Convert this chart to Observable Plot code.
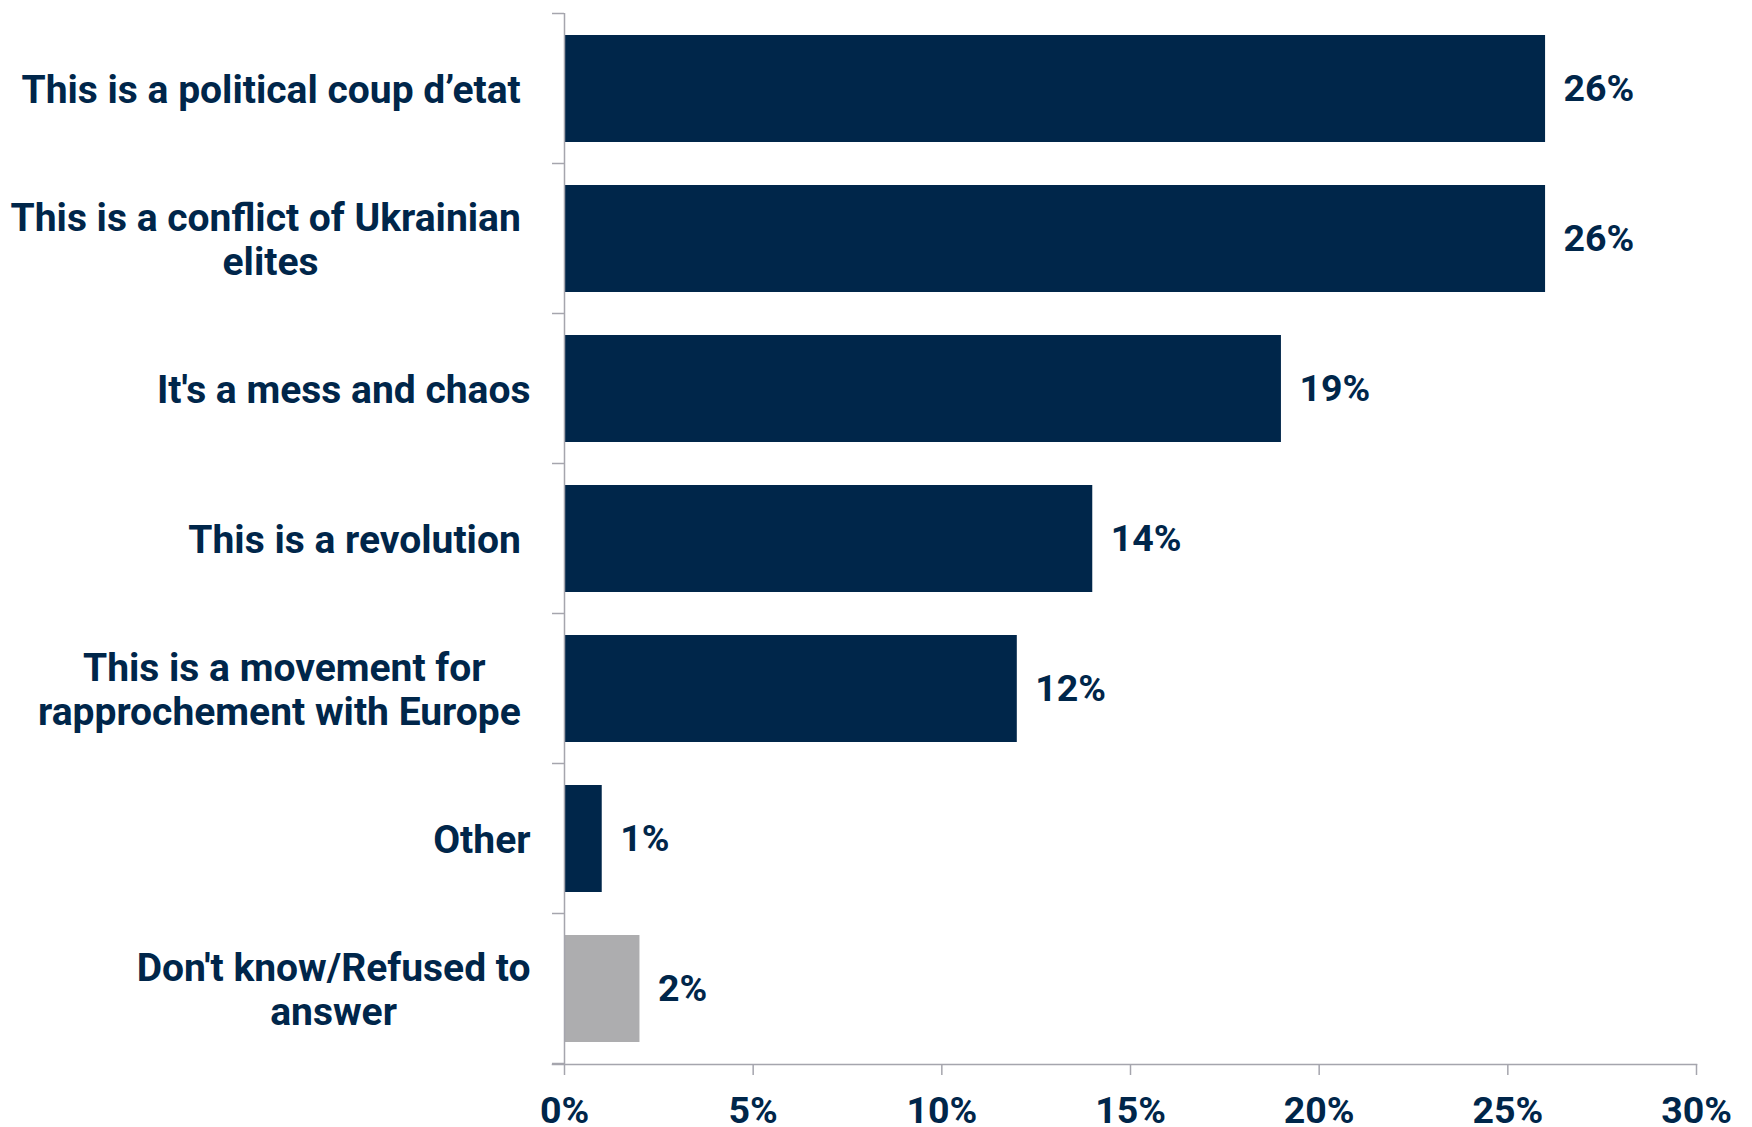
<!DOCTYPE html>
<html><head><meta charset="utf-8">
<script src="https://cdn.jsdelivr.net/npm/d3@7"></script>
<script src="https://cdn.jsdelivr.net/npm/@observablehq/plot@0.6"></script>
<style>
  body { margin: 0; background: #fff; }
  svg text { white-space: pre; }
</style>
</head><body>
<div id="chart"></div>
<script>
// ---- data ----
const categories = [
  "This is a political coup d\u2019etat ",
  "This is a conflict of Ukrainian \nelites",
  "It's a mess and chaos",
  "This is a revolution ",
  "This is a movement for\nrapprochement with Europe ",
  "Other",
  "Don't know/Refused to\nanswer"
];
const values = [26, 26, 19, 14, 12, 1, 2];
const xTicks = [0, 5, 10, 15, 20, 25, 30];
const grayCategory = "Don't know/Refused to\nanswer";

const data = categories.map((c, i) => ({category: c, value: values[i]}));

const NAVY = "#00264a";
const GRAY_BAR = "#adadaf";
const AXIS = "#a5a5ad";
const FONT = "Roboto";

const plot = Plot.plot({
  width: 1752,
  height: 1127,
  marginLeft: 564,
  marginRight: 56,
  marginTop: 13,
  marginBottom: 63,
  style: {fontFamily: FONT, fontSize: "37.5px", fontWeight: "bold", color: NAVY, background: "#fff"},
  x: {domain: [0, 30]},
  y: {domain: categories, paddingInner: 0.287, paddingOuter: 0.1435, axis: null},
  marks: [
    Plot.barX(data, {
      x: "value", y: "category",
      fill: d => d.category === grayCategory ? GRAY_BAR : NAVY
    }),
    Plot.ruleX([0], {stroke: AXIS, strokeWidth: 1.5}),
    Plot.frame({anchor: "bottom", stroke: AXIS, strokeWidth: 1.5, insetLeft: -12}),
    Plot.axisX({
      ticks: xTicks, tickFormat: d => d + "%",
      tickSize: 11, tickPadding: 21,
      stroke: AXIS, strokeWidth: 1.5, fill: NAVY,
      fontSize: 37.5, fontWeight: "bold", label: null
    }),
    Plot.text(data, {
      x: 0, y: "category", text: "category",
      textAnchor: "end", dx: -34, lineHeight: 1.12,
      fill: NAVY, fontSize: 39, fontWeight: "bold"
    }),
    Plot.text(data, {
      x: "value", y: "category", text: d => d.value + "%",
      textAnchor: "start", dx: 18,
      fill: NAVY, fontSize: 37.5, fontWeight: "bold"
    })
  ]
});
document.getElementById("chart").appendChild(plot);

// center multi-line category labels within their (right-aligned) block
d3.select(plot).selectAll("text").each(function() {
  const tspans = Array.from(this.querySelectorAll("tspan"));
  if (tspans.length > 1) {
    const widths = tspans.map(t => t.getComputedTextLength());
    const W = Math.max(...widths);
    tspans.forEach((t, i) => t.setAttribute("x", -(W - widths[i]) / 2));
  }
});

// category tick marks at the band boundaries, from the plot's own scales
const ys = plot.scale("y");
const xs = plot.scale("x");
const half = (ys.step - ys.bandwidth) / 2;
const bounds = ys.domain.map(c => ys.apply(c) - half);
bounds.push(ys.apply(ys.domain[ys.domain.length - 1]) + ys.bandwidth + half);
const x0 = xs.apply(0);
const g = d3.select(plot).append("g").attr("stroke", AXIS).attr("stroke-width", 1.5);
bounds.forEach(b => g.append("line").attr("x1", x0 - 12).attr("x2", x0).attr("y1", b).attr("y2", b));
</script></body></html>
